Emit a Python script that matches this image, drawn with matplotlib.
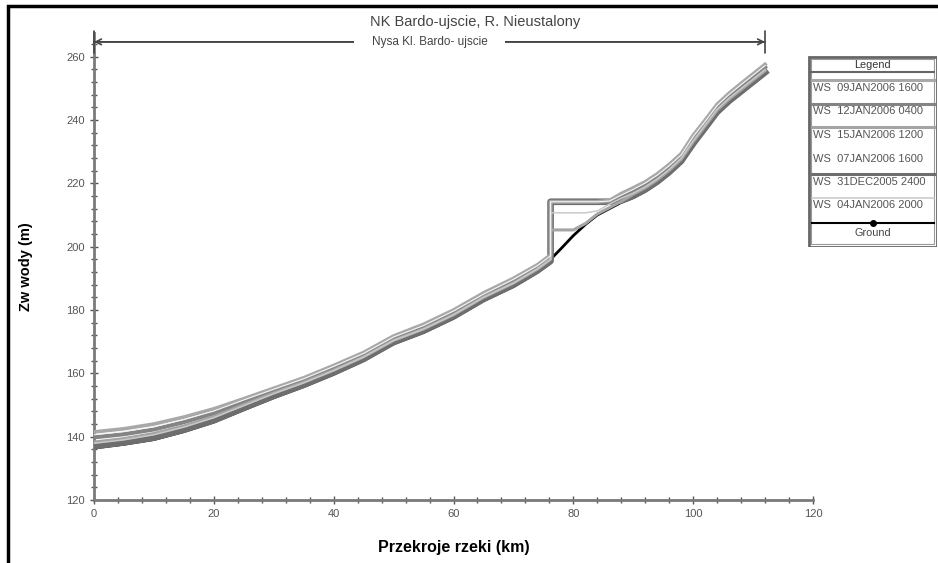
import matplotlib.pyplot as plt
from matplotlib.patches import Rectangle
from matplotlib.ticker import MultipleLocator

plt.rcParams['font.family'] = ['Liberation Sans', 'DejaVu Sans']

# stations along the reach (km); the dam at 76.2 km appears twice (downstream / upstream face)
st = [0, 5, 10, 15, 20, 25, 30, 35, 40, 45, 50, 55, 60, 65, 70, 74, 76.2, 76.2,
      78, 80, 82, 84, 86, 88, 90, 92, 94, 96, 98, 100, 102, 104, 106, 108, 110, 112]

ground = [136.4, 137.6, 139.1, 141.6, 144.6, 148.5, 152.3, 155.8, 159.7, 164.0, 169.3, 172.9,
          177.4, 182.9, 187.4, 191.9, 194.9, 196.0, 199.5, 203.5, 207.0, 210.0, 212.0, 214.0,
          215.5, 217.5, 220.0, 223.0, 226.5, 232.0, 237.0, 242.0, 245.5, 248.5, 251.5, 254.5]

ws_09jan_1600 = [141.5, 142.5, 144.0, 146.2, 148.8, 152.0, 155.3, 158.6, 162.5, 166.6, 171.8, 175.5,
                 180.0, 185.4, 190.0, 194.3, 197.4, 214.2, 214.2, 214.2, 214.2, 214.2, 214.6, 216.8,
                 218.6, 220.5, 223.0, 226.0, 229.4, 235.2, 240.0, 245.0, 248.5, 251.6, 254.6, 257.6]
ws_12jan_0400 = [139.8, 140.8, 142.3, 144.6, 147.4, 151.0, 154.6, 158.0, 161.8, 166.0, 171.2, 174.8,
                 179.3, 184.7, 189.3, 193.6, 196.8, 214.2, 214.2, 214.2, 214.2, 214.2, 214.2, 215.9,
                 217.7, 219.7, 222.2, 225.2, 228.6, 234.3, 239.1, 244.1, 247.6, 250.7, 253.7, 256.7]
ws_15jan_1200 = [138.3, 139.4, 141.0, 143.4, 146.3, 150.1, 153.8, 157.2, 161.0, 165.2, 170.4, 174.0,
                 178.5, 184.0, 188.5, 192.9, 196.0, 205.3, 205.3, 205.3, 207.3, 210.3, 212.3, 214.3,
                 216.6, 218.6, 221.1, 224.1, 227.6, 233.1, 238.1, 243.1, 246.6, 249.6, 252.6, 255.6]
ws_07jan_1600 = [140.6, 141.6, 143.1, 145.4, 148.1, 151.6, 155.0, 158.3, 162.2, 166.3, 171.5, 175.1,
                 179.7, 185.0, 189.7, 194.0, 197.1, 214.2, 214.2, 214.2, 214.2, 214.2, 214.4, 216.3,
                 218.1, 220.1, 222.6, 225.6, 229.0, 234.8, 239.6, 244.6, 248.1, 251.2, 254.2, 257.2]
ws_31dec_2400 = [137.0, 138.2, 139.7, 142.2, 145.2, 149.1, 152.9, 156.4, 160.3, 164.6, 169.9, 173.5,
                 178.0, 183.5, 188.0, 192.5, 195.5, 214.2, 214.2, 214.2, 214.2, 214.2, 214.2, 214.6,
                 216.1, 218.1, 220.6, 223.6, 227.1, 232.6, 237.6, 242.6, 246.1, 249.1, 252.1, 255.1]
ws_04jan_2000 = [137.9, 139.0, 140.6, 143.0, 146.0, 149.8, 153.6, 157.0, 160.9, 165.2, 170.4, 174.0,
                 178.5, 184.0, 188.5, 193.0, 196.0, 210.7, 210.7, 210.7, 210.7, 211.3, 213.4, 215.3,
                 216.9, 218.9, 221.4, 224.4, 227.9, 233.4, 238.4, 243.4, 246.9, 249.9, 252.9, 255.9]

labels = ['WS  09JAN2006 1600', 'WS  12JAN2006 0400', 'WS  15JAN2006 1200',
          'WS  07JAN2006 1600', 'WS  31DEC2005 2400', 'WS  04JAN2006 2000']
profiles = [ws_09jan_1600, ws_12jan_0400, ws_15jan_1200, ws_07jan_1600, ws_31dec_2400, ws_04jan_2000]
colors = ['#a8a8a8', '#848484', '#a4a4a4', '#f4f4f4', '#6e6e6e', '#c8c8c8']
widths = [2.6, 3.0, 2.2, 0.8, 4.8, 1.1]

reach_name = 'Nysa Kl. Bardo- ujscie'
title = 'NK Bardo-ujscie, R. Nieustalony'

fig = plt.figure(figsize=(9.38, 5.63), dpi=100)
ax = fig.add_axes([94 / 938, 1 - 500 / 563, (813 - 94) / 938, (500 - 33) / 563])

ax.plot(st, ground, color='black', lw=2.0, zorder=2)
order = [4, 1, 0, 2, 5, 3]
for z, i in enumerate(order):
    ax.plot(st, profiles[i], color=colors[i], lw=widths[i], zorder=3 + z)

ax.set_xlim(0, 120)
ax.set_ylim(120, 267.5)
ax.xaxis.set_major_locator(MultipleLocator(20))
ax.xaxis.set_minor_locator(MultipleLocator(4))
ax.yaxis.set_major_locator(MultipleLocator(20))
ax.yaxis.set_minor_locator(MultipleLocator(4))
for s in ['top', 'right']:
    ax.spines[s].set_visible(False)
for s in ['left', 'bottom']:
    ax.spines[s].set_color('#7a7a7a')
    ax.spines[s].set_linewidth(2)
ax.tick_params(which='both', direction='inout', colors='#555555', labelsize=8, width=1)
ax.tick_params(which='major', length=6)
ax.tick_params(which='minor', length=4)
ax.set_xlabel('Przekroje rzeki (km)', fontsize=11.5, fontweight='bold', labelpad=15)
ax.set_ylabel('Zw wody (m)', fontsize=10.5, fontweight='bold', labelpad=24)

# reach extent arrow with name
ya = 264.7
ax.annotate('', xy=(st[0], ya), xytext=(st[-1], ya),
            arrowprops=dict(arrowstyle='<->', color='#444444', lw=1.2, shrinkA=0, shrinkB=0))
ax.annotate('', xy=(st[0], ya), xytext=(st[-1], ya),
            arrowprops=dict(arrowstyle='|-|', color='#444444', lw=1.2, shrinkA=0, shrinkB=0,
                            mutation_scale=8))
ax.text((st[0] + st[-1]) / 2, ya, reach_name, ha='center', va='center', fontsize=8.5,
        color='#444444', bbox=dict(facecolor='white', edgecolor='none', boxstyle='square,pad=1.5'))

fig.text(475 / 938, 1 - 22 / 563, title, ha='center', va='center', fontsize=10.5, color='#444444')

# outer frame
fig.patches.append(Rectangle((8 / 938, -0.1), 1.2, 1.1 - 6 / 563, transform=fig.transFigure,
                             fill=False, edgecolor='black', lw=2.5))

# legend box
lg = fig.add_axes([808 / 938, 1 - 247 / 563, 129 / 938, (247 - 56) / 563])
lg.set_xlim(0, 129)
lg.set_ylim(191, 0)
lg.axis('off')
lg.add_patch(Rectangle((0.5, 0.5), 128, 190, fill=False, edgecolor='#666666', lw=2))
lg.add_patch(Rectangle((3, 3), 123, 185, fill=False, edgecolor='#999999', lw=0.8))
lg.text(64.5, 8.5, 'Legend', ha='center', va='center', fontsize=7.8, color='#333333')
lg.plot([3, 126], [16, 16], color='#666666', lw=1.5)
for k, lab in enumerate(labels):
    yl = 24 + k * 23.5
    if colors[k] != '#f4f4f4':
        lg.plot([4, 126], [yl, yl], color=colors[k], lw=min(widths[k], 2.2))
    lg.text(5, yl + 8, lab, ha='left', va='center', fontsize=8, color='#555555')
lg.plot([4, 126], [167, 167], color='black', lw=1.5)
lg.plot([64.5], [167], marker='o', color='black', markersize=4)
lg.text(64.5, 177, 'Ground', ha='center', va='center', fontsize=7.8, color='#444444')

fig.savefig('out.png', dpi=100)
